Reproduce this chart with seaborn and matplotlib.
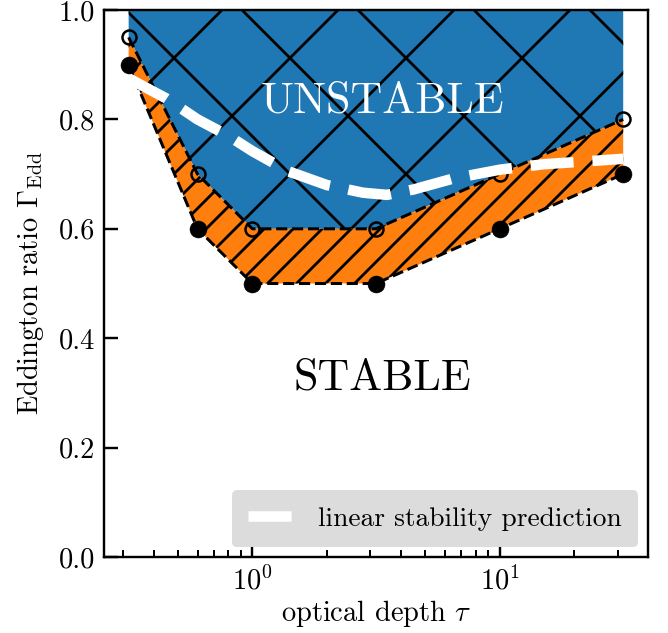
import matplotlib
matplotlib.use("Agg")
import matplotlib.pyplot as plt
import seaborn as sns

# ---------------- data ----------------
tau = [0.316, 0.6, 1.0, 3.16, 10.0, 31.6]
gamma_stable = [0.90, 0.60, 0.50, 0.50, 0.60, 0.70]      # filled points
gamma_unstable = [0.95, 0.70, 0.60, 0.60, 0.70, 0.80]    # open points

tau_lin = [0.316, 0.45, 0.6, 0.8, 1.0, 1.4, 2.0, 2.8, 3.5, 4.5, 6.5, 10.0, 15.0, 22.0, 31.6]
gamma_lin = [0.875, 0.838, 0.80, 0.77, 0.742, 0.705, 0.68, 0.666, 0.662, 0.672, 0.692,
             0.708, 0.718, 0.723, 0.728]

y_ticks = [0.0, 0.2, 0.4, 0.6, 0.8, 1.0]
text_unstable = "UNSTABLE"
text_stable = "STABLE"
legend_label = "linear stability prediction"
xlabel = r"optical depth $\tau$"
ylabel = r"Eddington ratio $\Gamma_{\rm Edd}$"

# ---------------- style ----------------
DPI = 348
P = 72.0 / DPI  # pixels -> points
FS = 28.5 * P

sns.set_style("ticks")
plt.rcParams.update({
    "font.family": ["cmr10", "DejaVu Serif"],
    "mathtext.fontset": "cm",
    "axes.formatter.use_mathtext": True,
    "font.size": FS,
    "hatch.linewidth": 2.8 * P,
    "hatch.color": "black",
    "axes.linewidth": 2.4 * P,
    "axes.edgecolor": "black",
    "text.color": "black",
    "axes.labelcolor": "black",
    "xtick.color": "black",
    "ytick.color": "black",
})

fig = plt.figure(figsize=(668 / DPI, 633 / DPI), dpi=DPI)
ax = fig.add_axes([104 / 668, 1 - 557 / 633, (648 - 104) / 668, (557 - 10) / 633])
ax.set_xscale("log")

blue = "#1f77b4"
orange = "#ff7f0e"

ax.fill_between(tau, gamma_unstable, 1.0, facecolor=blue, edgecolor="black",
                hatch="x", linewidth=0, zorder=1)
ax.fill_between(tau, gamma_stable, gamma_unstable, facecolor=orange, edgecolor="black",
                hatch="////", linewidth=0, zorder=1)

sns.lineplot(x=tau, y=gamma_stable, ax=ax, color="black", linestyle="--",
             linewidth=3.0 * P, marker="o", markersize=17 * P, markerfacecolor="black",
             markeredgecolor="black", markeredgewidth=0.5 * P, zorder=3)
sns.lineplot(x=tau, y=gamma_unstable, ax=ax, color="black", linestyle="--",
             linewidth=3.0 * P, marker="o", markersize=14 * P, markerfacecolor="none",
             markeredgecolor="black", markeredgewidth=2.5 * P, zorder=3)
sns.lineplot(x=tau_lin, y=gamma_lin, ax=ax, color="white",
             linestyle=(0, (4.1, 1.8)), linewidth=10.5 * P, zorder=4,
             label=legend_label)

ax.text(3.35, 0.832, text_unstable, color="white", fontsize=44 * P,
        ha="center", va="center", zorder=5)
ax.text(3.35, 0.327, text_stable, color="black", fontsize=44 * P,
        ha="center", va="center", zorder=5)

ax.set_xlim(10 ** -0.6, 10 ** 1.6)
ax.set_ylim(0, 1)
ax.set_yticks(y_ticks)
ax.set_yticklabels([f"{v:.1f}" for v in y_ticks])

ax.tick_params(which="major", direction="in", length=14 * P, width=2.4 * P,
               pad=9 * P, labelsize=FS, top=False, right=False)
ax.tick_params(which="minor", direction="in", length=7 * P, width=2.0 * P,
               top=False, right=False)
ax.tick_params(axis="y", which="minor", left=False)

ax.set_xlabel(xlabel, fontsize=FS, labelpad=3 * P)
ax.set_ylabel(ylabel, fontsize=FS, labelpad=13 * P)

leg = ax.legend(loc="lower right", fontsize=27.5 * P, frameon=True, fancybox=True,
                facecolor="#dcdcdc", edgecolor="#dcdcdc", framealpha=1.0,
                borderaxespad=0.35, borderpad=0.6, handletextpad=0.55)
leg.get_frame().set_linewidth(0)

for s in ["top", "right", "left", "bottom"]:
    ax.spines[s].set_visible(True)
    ax.spines[s].set_linewidth(2.4 * P)

fig.savefig("out.png", dpi=DPI)
